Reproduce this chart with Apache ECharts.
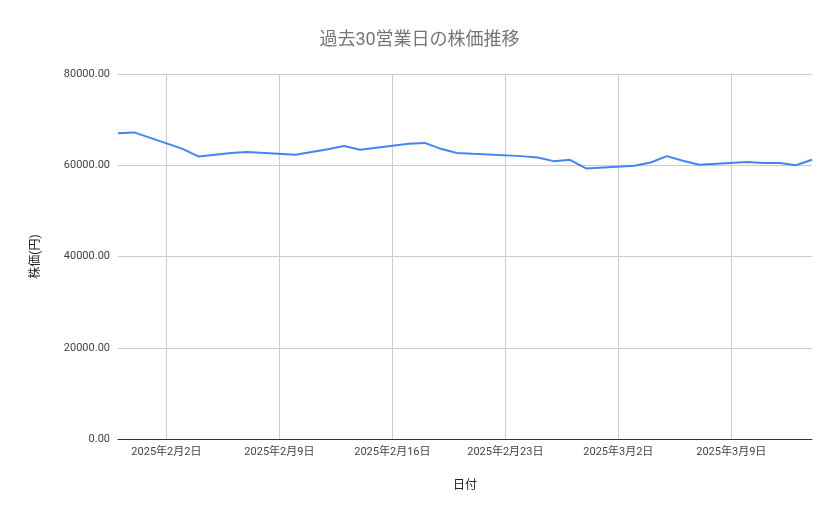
<!DOCTYPE html>
<html><head><meta charset="utf-8">
<script src="https://cdn.jsdelivr.net/npm/echarts@6/dist/echarts.min.js"></script>
<style>html,body{margin:0;padding:0;background:#fff}#c{width:839px;height:519px}</style>
</head><body><div id="c"></div>
<script>
var tradeDates = ['2025-01-30','2025-01-31','2025-02-03','2025-02-04','2025-02-05','2025-02-06','2025-02-07',
  '2025-02-10','2025-02-11','2025-02-12','2025-02-13','2025-02-14','2025-02-17','2025-02-18','2025-02-19',
  '2025-02-20','2025-02-21','2025-02-24','2025-02-25','2025-02-26','2025-02-27','2025-02-28','2025-03-03',
  '2025-03-04','2025-03-05','2025-03-06','2025-03-07','2025-03-10','2025-03-11','2025-03-12','2025-03-13','2025-03-14'];
var prices = [67000,67200,63600,61900,62300,62700,62900,
  62300,62900,63500,64200,63400,64700,64900,63600,
  62700,62500,62000,61700,60900,61200,59300,59900,
  60600,62000,61000,60100,60700,60500,60500,60000,61200];
var yTicks = [0, 20000, 40000, 60000, 80000];

// every calendar day on the axis, weekends left empty
var days = [], labels = [], values = [];
var d = new Date(Date.UTC(2025, 0, 30)), end = new Date(Date.UTC(2025, 2, 14));
while (d <= end) {
  var iso = d.toISOString().slice(0, 10);
  days.push(d.getUTCDay());
  labels.push(d.getUTCFullYear() + '年' + (d.getUTCMonth() + 1) + '月' + d.getUTCDate() + '日');
  var k = tradeDates.indexOf(iso);
  values.push(k >= 0 ? prices[k] : null);
  d = new Date(d.getTime() + 86400000);
}
function isSunday(i) { return days[i] === 0; }

var chart = echarts.init(document.getElementById('c'));
chart.setOption({
  textStyle: {fontFamily: 'Roboto, "Noto Sans CJK JP", sans-serif'},
  title: {text: '過去30営業日の株価推移', left: 'center', top: 27,
    textStyle: {color: '#757575', fontSize: 18, fontWeight: 'normal'}},
  grid: {left: 118, right: 27, top: 74, bottom: 80},
  xAxis: {
    type: 'category', data: labels, boundaryGap: false,
    name: '日付', nameLocation: 'middle', nameGap: 41,
    nameTextStyle: {color: '#222', fontSize: 12},
    axisLine: {lineStyle: {color: '#333'}},
    axisTick: {show: false},
    axisLabel: {color: '#444', fontSize: 11, interval: function (i) { return isSunday(i); }},
    splitLine: {show: true, interval: function (i) { return isSunday(i); }, lineStyle: {color: '#cccccc'}}
  },
  yAxis: {
    type: 'value', min: yTicks[0], max: yTicks[yTicks.length - 1], interval: 20000,
    name: '株価(円)', nameLocation: 'middle', nameGap: 76, nameRotate: 90,
    nameTextStyle: {color: '#222', fontSize: 12},
    axisLine: {show: false}, axisTick: {show: false},
    axisLabel: {color: '#444', fontSize: 11, formatter: function (v) { return v.toFixed(2); }},
    splitLine: {lineStyle: {color: '#cccccc'}}
  },
  series: [{
    type: 'line', data: values, connectNulls: true, symbol: 'none',
    lineStyle: {color: '#4285f4', width: 2}, itemStyle: {color: '#4285f4'}
  }]
});
</script></body></html>
